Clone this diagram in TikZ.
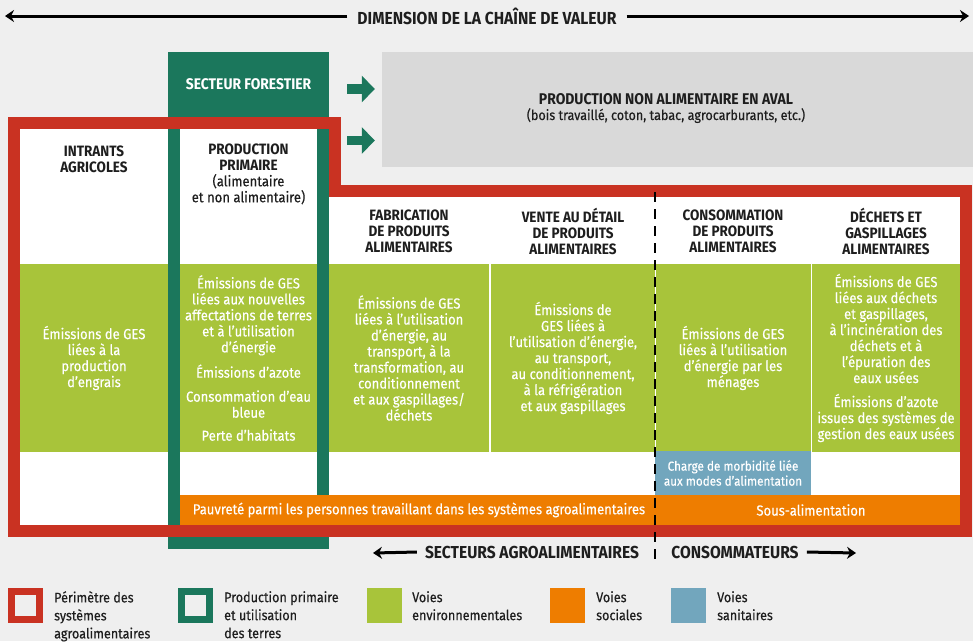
\documentclass[tikz,border=0pt]{standalone}
\usepackage{fontspec}
\setmainfont{Fira Sans}[FakeStretch=0.9, UprightFeatures={FakeBold=0.3}]
\usetikzlibrary{arrows.meta}

\definecolor{bggrey}{HTML}{EFEFEF}
\definecolor{avalgrey}{HTML}{D9D9D9}
\definecolor{perimred}{HTML}{C93222}
\definecolor{primgreen}{HTML}{1B775C}
\definecolor{envgreen}{HTML}{A8C43A}
\definecolor{socorange}{HTML}{EE7D00}
\definecolor{santeblue}{HTML}{72A6BD}
\definecolor{inkblack}{HTML}{1E1E1E}

\tikzset{
  txt/.style={font=\fontsize{14.5}{16}\selectfont, align=center, inner sep=0pt, text=inkblack},
  head/.style={txt, font=\fontsize{15}{16}\selectfont\bfseries},
  title/.style={txt, font=\fontsize{17.4}{20}\selectfont\bfseries, inner xsep=10pt},
  sector/.style={txt, font=\fontsize{17.3}{20}\selectfont\bfseries, inner xsep=8pt},
  dimarrow/.style={line width=3pt, -{Stealth[length=9pt,width=12pt,inset=3pt]}},
  avalbox/.style={fill=avalgrey, minimum width=591pt, minimum height=115pt, inner sep=0pt},
  envcell/.style={txt, fill=envgreen, text=white, minimum height=188pt},
  santecell/.style={txt, fill=santeblue, text=white, font=\fontsize{13}{15}\selectfont,
    minimum width=156pt, minimum height=44pt},
  socband/.style={fill=socorange, minimum width=780pt, minimum height=30pt, inner sep=0pt},
  soctxt/.style={txt, text=white},
  forestbox/.style={txt, fill=primgreen, text=white, font=\fontsize{15.4}{16}\selectfont\bfseries,
    minimum width=161pt, minimum height=65pt},
  primframe/.style={draw=primgreen, line width=12pt},
  perim/.style={draw=perimred, line width=12pt, line join=miter},
  forestarrow/.style={draw=primgreen, line width=9.5pt, shorten <=18pt, shorten >=7pt,
    -{Triangle[width=26pt,length=13pt]}},
  split/.style={line width=2pt, dash pattern=on 10pt off 7pt},
  legbox/.style={minimum size=28pt, line width=7pt, inner sep=0pt},
  legtxt/.style={txt, align=left, font=\fontsize{14}{18}\selectfont, anchor=north west}
}

\begin{document}
\begin{tikzpicture}[x=1pt,y=-1pt]
\fill[bggrey] (0,0) rectangle (973,641);
\useasboundingbox (0,0) rectangle (973,641);

% dimension de la chaine
\node[title] (dim) at (487,16) {DIMENSION DE LA CHAÎNE DE VALEUR};
\coordinate (dimL) at (5,16);
\coordinate (dimR) at (969,16);
\draw[dimarrow] (dim.west) -- (dimL);
\draw[dimarrow] (dim.east) -- (dimR);

% production non alimentaire en aval
\node[avalbox] (aval) at (677.5,109.5) {};
\node[txt, font=\fontsize{14}{16}\selectfont] (avaltxt) at (666,108)
  {{\fontsize{15.5}{16}\selectfont\bfseries PRODUCTION NON ALIMENTAIRE EN AVAL}\\(bois travaillé, coton, tabac, agrocarburants, etc.)};

% fond blanc du perimetre
\fill[white] (14,123) -- (335,123) -- (335,191) -- (966,191) -- (966,531) -- (14,531) -- cycle;

% en-tetes
\node[head] (hd1) at (94,159) {INTRANTS\\AGRICOLES};
\node[txt] (hd2) at (248.5,174) {{\fontsize{15}{16}\selectfont\bfseries PRODUCTION}\\{\fontsize{15}{16}\selectfont\bfseries PRIMAIRE}\\(alimentaire\\et non alimentaire)};
\node[head] (hd3) at (409,231) {FABRICATION\\DE PRODUITS\\ALIMENTAIRES};
\node[head] (hd4) at (573,231) {VENTE AU DÉTAIL\\DE PRODUITS\\ALIMENTAIRES};
\node[head] (hd5) at (733,231) {CONSOMMATION\\DE PRODUITS\\ALIMENTAIRES};
\node[head] (hd6) at (886,231) {DÉCHETS ET\\GASPILLAGES\\ALIMENTAIRES};

% voies environnementales
\node[envcell, minimum width=148pt] (env1) at (94,358)
  {Émissions de GES\\liées à la\\production\\d’engrais};
\node[envcell, minimum width=137pt] (env2) at (248.5,358)
  {Émissions de GES\\liées aux nouvelles\\affectations de terres\\et à l’utilisation\\d’énergie\\[8pt]Émissions d’azote\\[8pt]Consommation d’eau\\bleue\\[7pt]Perte d’habitats};
\node[envcell, minimum width=160pt] (env3) at (409,358)
  {Émissions de GES\\liées à l’utilisation\\d’énergie, au\\transport, à la\\transformation, au\\conditionnement\\et aux gaspillages/\\déchets};
\node[envcell, minimum width=164pt] (env4) at (573,358)
  {Émissions de\\GES liées à\\l’utilisation d’énergie,\\au transport,\\au conditionnement,\\à la réfrigération\\et aux gaspillages};
\node[envcell, minimum width=155pt] (env5) at (733,358)
  {Émissions de GES\\liées à l’utilisation\\d’énergie par les\\ménages};
\node[envcell, minimum width=148pt] (env6) at (886,358)
  {Émissions de GES\\liées aux déchets\\et gaspillages,\\à l’incinération des\\déchets et à\\l’épuration des\\eaux usées\\[8pt]Émissions d’azote\\issues des systèmes de\\gestion des eaux usées};

% voies sanitaires
\node[santecell] (sante) at (733,473) {Charge de morbidité liée\\aux modes d’alimentation};

% production primaire et secteur forestier
\draw[primframe] (174,58) rectangle (323,543);
\node[forestbox] (forest) at (248.5,84.5) {SECTEUR FORESTIER};
\draw[forestarrow] (forest.east |- 0,89) -- (aval.west |- 0,89);
\draw[forestarrow] (forest.east |- 0,140.5) -- (aval.west |- 0,140.5);

% voies sociales
\node[socband] (soc) at (570,510) {};
\node[soctxt] (pauv) at (419,510) {Pauvreté parmi les personnes travaillant dans les systèmes agroalimentaires};
\node[soctxt] (sous) at (811,510) {Sous-alimentation};

% perimetre des systemes agroalimentaires
\draw[perim] (14,123) -- (335,123) -- (335,191) -- (966,191) -- (966,531) -- (14,531) -- cycle;

% secteurs / consommateurs
\coordinate (dtop) at (655,192);
\coordinate (dbot) at (655,563);
\draw[split] (dtop) -- (dbot);
\node[sector] (agro) at (532,552) {SECTEURS AGROALIMENTAIRES};
\node[sector] (conso) at (735,552) {CONSOMMATEURS};
\coordinate (agroL) at (373,553);
\coordinate (consoR) at (856,553);
\draw[dimarrow] (agro.west) -- (agroL);
\draw[dimarrow] (conso.east) -- (consoR);

% legende
\node[legbox, draw=perimred] (lg1) at (25.5,605.5) {};
\node[legtxt] (lt1) at (54,591) {Périmètre des\\systèmes\\agroalimentaires};
\node[legbox, draw=primgreen] (lg2) at (195.5,605.5) {};
\node[legtxt] (lt2) at (224,591) {Production primaire\\et utilisation\\des terres};
\node[legbox, fill=envgreen, minimum size=35pt, line width=0pt] (lg3) at (384.5,605.5) {};
\node[legtxt] (lt3) at (412,591) {Voies\\environnementales};
\node[legbox, fill=socorange, minimum size=35pt, line width=0pt] (lg4) at (567.5,605.5) {};
\node[legtxt] (lt4) at (596,591) {Voies\\sociales};
\node[legbox, fill=santeblue, minimum size=35pt, line width=0pt] (lg5) at (688.5,605.5) {};
\node[legtxt] (lt5) at (717,591) {Voies\\sanitaires};
\end{tikzpicture}
\end{document}
